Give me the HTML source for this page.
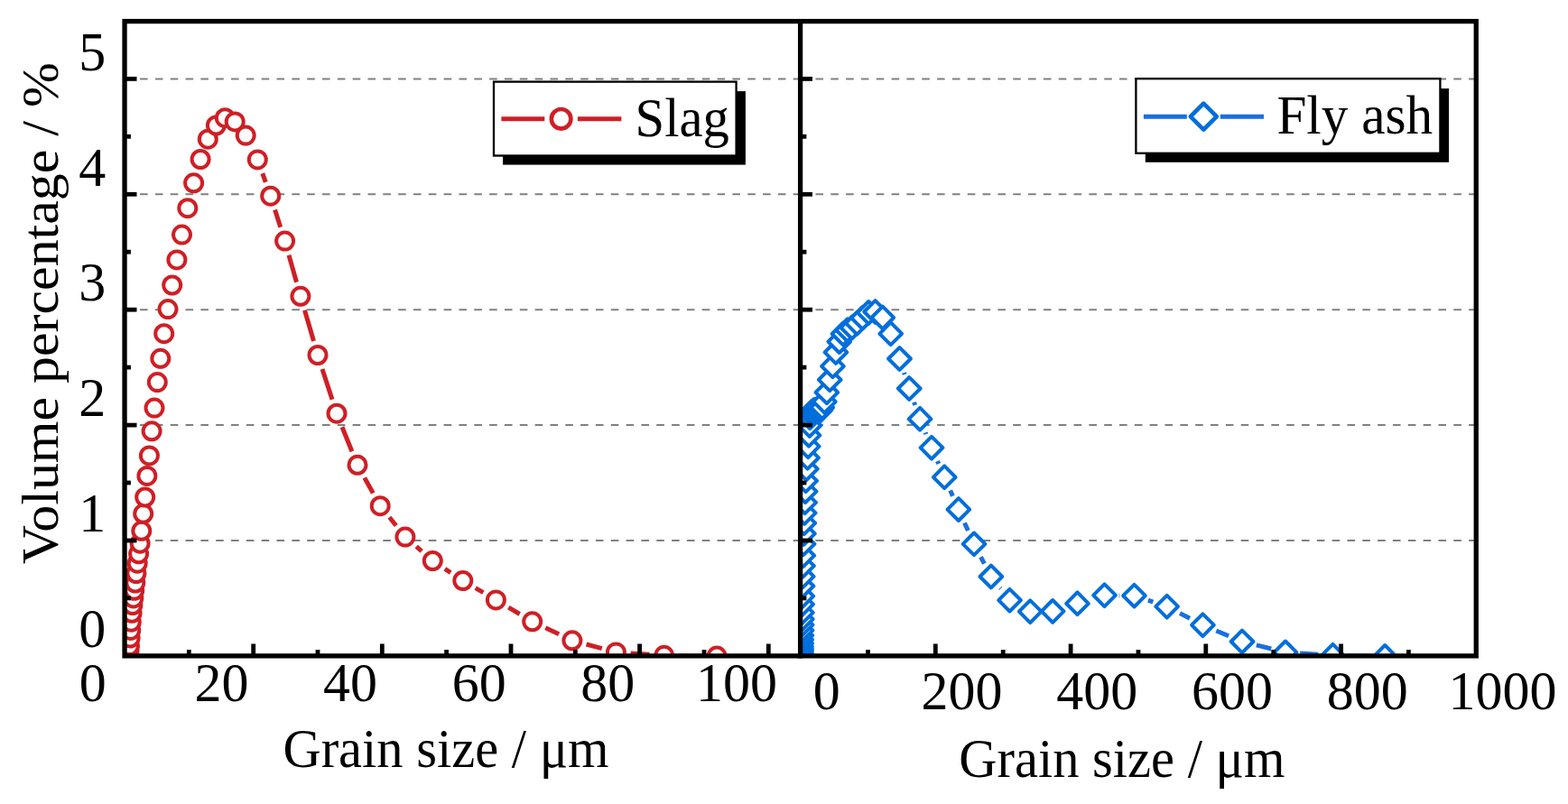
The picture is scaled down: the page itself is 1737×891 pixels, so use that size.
<!DOCTYPE html>
<html lang="en"><head><meta charset="utf-8"><title>Grain size distribution of slag and fly ash</title>
<style>html,body{margin:0;padding:0;background:#fff;overflow:hidden}svg{display:block}text{font-family:"Liberation Serif","Times New Roman",serif;fill:#000}</style></head><body>
<svg width="1737" height="891" viewBox="0 0 1737 891">
<rect width="1737" height="891" fill="#fff"/>
<g stroke="#808080" stroke-width="2" stroke-dasharray="8.6 8.23" fill="none">
<line x1="138.2" y1="599.0" x2="886.6" y2="599.0"/>
<line x1="886.6" y1="599.0" x2="1635.3" y2="599.0"/>
<line x1="138.2" y1="471.1" x2="886.6" y2="471.1"/>
<line x1="886.6" y1="471.1" x2="1635.3" y2="471.1"/>
<line x1="138.2" y1="343.2" x2="886.6" y2="343.2"/>
<line x1="886.6" y1="343.2" x2="1635.3" y2="343.2"/>
<line x1="138.2" y1="215.3" x2="886.6" y2="215.3"/>
<line x1="886.6" y1="215.3" x2="1635.3" y2="215.3"/>
<line x1="138.2" y1="87.4" x2="886.6" y2="87.4"/>
<line x1="886.6" y1="87.4" x2="1635.3" y2="87.4"/>
</g>
<clipPath id="cl"><rect x="138.1" y="23.6" width="748.5" height="701.1"/></clipPath>
<clipPath id="cr"><rect x="886.6" y="23.6" width="748.7" height="701.1"/></clipPath>
<g clip-path="url(#cl)" stroke="#cf1f25" fill="none">
<path stroke-width="5" d="M290.8 192.2L294.3 201.9M304.6 232.6L310.7 251.7M320.0 282.7L328.5 312.7M337.5 343.8L347.5 378.0M357.0 408.9L368.0 442.8M379.0 473.2L389.9 500.3M403.8 529.5L413.3 546.5M431.4 573.3L438.8 582.5M461.2 605.7L467.1 610.9M492.9 630.4L499.2 634.6M526.7 651.7L535.4 656.7M563.3 673.2L575.7 680.5M604.3 695.8L619.2 702.8M649.5 714.0L666.8 718.7M698.6 723.9L719.5 725.3M751.9 726.5L777.9 726.9"/>
<g stroke-width="4" fill="#fff">
<circle cx="139.0" cy="727.0" r="9.5"/>
<circle cx="139.1" cy="727.0" r="9.5"/>
<circle cx="139.2" cy="727.0" r="9.5"/>
<circle cx="139.3" cy="727.0" r="9.5"/>
<circle cx="139.4" cy="727.0" r="9.5"/>
<circle cx="139.6" cy="727.0" r="9.5"/>
<circle cx="139.7" cy="727.0" r="9.5"/>
<circle cx="139.9" cy="727.0" r="9.5"/>
<circle cx="140.1" cy="727.0" r="9.5"/>
<circle cx="140.3" cy="727.0" r="9.5"/>
<circle cx="140.6" cy="727.0" r="9.5"/>
<circle cx="140.8" cy="727.0" r="9.5"/>
<circle cx="141.1" cy="727.0" r="9.5"/>
<circle cx="141.4" cy="727.0" r="9.5"/>
<circle cx="141.8" cy="726.8" r="9.5"/>
<circle cx="142.2" cy="726.0" r="9.5"/>
<circle cx="142.6" cy="724.4" r="9.5"/>
<circle cx="143.0" cy="721.3" r="9.5"/>
<circle cx="143.5" cy="715.6" r="9.5"/>
<circle cx="144.1" cy="707.0" r="9.5"/>
<circle cx="144.7" cy="698.4" r="9.5"/>
<circle cx="145.3" cy="689.2" r="9.5"/>
<circle cx="146.1" cy="679.3" r="9.5"/>
<circle cx="146.9" cy="670.5" r="9.5"/>
<circle cx="147.8" cy="662.9" r="9.5"/>
<circle cx="148.7" cy="654.3" r="9.5"/>
<circle cx="149.8" cy="646.0" r="9.5"/>
<circle cx="150.9" cy="635.5" r="9.5"/>
<circle cx="152.2" cy="624.2" r="9.5"/>
<circle cx="153.6" cy="613.8" r="9.5"/>
<circle cx="155.1" cy="602.2" r="9.5"/>
<circle cx="156.8" cy="588.3" r="9.5"/>
<circle cx="158.7" cy="569.3" r="9.5"/>
<circle cx="160.7" cy="551.0" r="9.5"/>
<circle cx="162.9" cy="527.4" r="9.5"/>
<circle cx="165.4" cy="504.9" r="9.5"/>
<circle cx="168.1" cy="477.8" r="9.5"/>
<circle cx="171.0" cy="452.1" r="9.5"/>
<circle cx="174.3" cy="423.6" r="9.5"/>
<circle cx="177.8" cy="397.3" r="9.5"/>
<circle cx="181.7" cy="369.7" r="9.5"/>
<circle cx="186.0" cy="342.6" r="9.5"/>
<circle cx="190.7" cy="316.0" r="9.5"/>
<circle cx="195.9" cy="287.9" r="9.5"/>
<circle cx="201.5" cy="260.1" r="9.5"/>
<circle cx="207.8" cy="230.7" r="9.5"/>
<circle cx="214.6" cy="202.8" r="9.5"/>
<circle cx="222.1" cy="176.5" r="9.5"/>
<circle cx="230.3" cy="154.2" r="9.5"/>
<circle cx="239.4" cy="139.0" r="9.5"/>
<circle cx="249.3" cy="130.7" r="9.5"/>
<circle cx="260.2" cy="134.9" r="9.5"/>
<circle cx="272.2" cy="150.1" r="9.5"/>
<circle cx="285.3" cy="176.9" r="9.5"/>
<circle cx="299.7" cy="217.2" r="9.5"/>
<circle cx="315.6" cy="267.1" r="9.5"/>
<circle cx="332.9" cy="328.3" r="9.5"/>
<circle cx="352.0" cy="393.5" r="9.5"/>
<circle cx="373.0" cy="458.2" r="9.5"/>
<circle cx="396.0" cy="515.3" r="9.5"/>
<circle cx="421.2" cy="560.7" r="9.5"/>
<circle cx="448.9" cy="595.1" r="9.5"/>
<circle cx="479.3" cy="621.5" r="9.5"/>
<circle cx="512.8" cy="643.5" r="9.5"/>
<circle cx="549.4" cy="664.9" r="9.5"/>
<circle cx="589.7" cy="688.8" r="9.5"/>
<circle cx="633.9" cy="709.8" r="9.5"/>
<circle cx="682.4" cy="722.9" r="9.5"/>
<circle cx="735.7" cy="726.3" r="9.5"/>
<circle cx="794.1" cy="727.1" r="9.5"/>
</g></g>
<g clip-path="url(#cr)" fill="none">
<path stroke="#196fe0" stroke-width="5" d="M1001.5 412.9L1002.2 415.1M1012.6 445.8L1013.7 449.0M1025.2 479.3L1025.9 481.2M1038.5 511.0L1039.8 514.0M1052.7 543.6L1055.4 549.8M1068.5 579.4L1072.4 588.1M1086.5 617.3L1090.4 624.6M1107.9 651.7L1108.5 652.4M1239.7 659.9L1240.3 659.9M1271.9 665.2L1277.3 667.1M1307.1 679.6L1318.0 685.3M1347.3 699.0L1361.1 704.7M1391.8 714.9L1408.2 719.0M1440.1 723.9L1460.3 725.3M1492.7 726.6L1518.0 727.1"/>
<g stroke="#006edc" stroke-width="4" stroke-linejoin="round" fill="#fff">
<path d="M886.7 714.5L899.1 726.9L886.7 739.2L874.4 726.9Z"/>
<path d="M886.7 714.5L899.1 726.9L886.7 739.2L874.4 726.9Z"/>
<path d="M886.7 714.5L899.1 726.9L886.7 739.2L874.4 726.9Z"/>
<path d="M886.7 714.5L899.1 726.9L886.7 739.2L874.4 726.9Z"/>
<path d="M886.8 714.5L899.1 726.9L886.8 739.2L874.4 726.9Z"/>
<path d="M886.8 714.5L899.1 726.9L886.8 739.2L874.4 726.9Z"/>
<path d="M886.8 714.5L899.1 726.9L886.8 739.2L874.4 726.9Z"/>
<path d="M886.8 714.5L899.2 726.9L886.8 739.2L874.5 726.9Z"/>
<path d="M886.9 714.5L899.2 726.9L886.9 739.2L874.5 726.9Z"/>
<path d="M886.9 714.5L899.2 726.9L886.9 739.2L874.5 726.9Z"/>
<path d="M886.9 714.5L899.3 726.9L886.9 739.2L874.6 726.9Z"/>
<path d="M887.0 714.5L899.3 726.9L887.0 739.2L874.6 726.9Z"/>
<path d="M887.0 714.5L899.4 726.9L887.0 739.2L874.6 726.9Z"/>
<path d="M887.0 714.5L899.4 726.9L887.0 739.2L874.7 726.9Z"/>
<path d="M887.1 713.6L899.4 726.0L887.1 738.4L874.7 726.0Z"/>
<path d="M887.1 712.6L899.5 725.0L887.1 737.4L874.8 725.0Z"/>
<path d="M887.2 711.6L899.6 724.0L887.2 736.4L874.9 724.0Z"/>
<path d="M887.3 710.4L899.6 722.7L887.3 735.1L874.9 722.7Z"/>
<path d="M887.3 708.6L899.7 721.0L887.3 733.4L875.0 721.0Z"/>
<path d="M887.4 706.6L899.8 719.0L887.4 731.4L875.1 719.0Z"/>
<path d="M887.5 704.0L899.8 716.4L887.5 728.8L875.1 716.4Z"/>
<path d="M887.6 700.6L899.9 713.0L887.6 725.4L875.2 713.0Z"/>
<path d="M887.7 696.4L900.0 708.8L887.7 721.1L875.3 708.8Z"/>
<path d="M887.8 691.9L900.1 704.2L887.8 716.6L875.4 704.2Z"/>
<path d="M887.9 686.4L900.3 698.7L887.9 711.1L875.6 698.7Z"/>
<path d="M888.0 680.0L900.4 692.4L888.0 704.8L875.7 692.4Z"/>
<path d="M888.2 673.9L900.6 686.2L888.2 698.6L875.9 686.2Z"/>
<path d="M888.4 666.4L900.7 678.8L888.4 691.1L876.0 678.8Z"/>
<path d="M888.5 657.4L900.9 669.7L888.5 682.1L876.2 669.7Z"/>
<path d="M888.7 648.4L901.1 660.7L888.7 673.1L876.4 660.7Z"/>
<path d="M888.9 637.1L901.3 649.5L888.9 661.9L876.6 649.5Z"/>
<path d="M889.2 626.5L901.5 638.9L889.2 651.2L876.8 638.9Z"/>
<path d="M889.4 614.8L901.8 627.1L889.4 639.5L877.1 627.1Z"/>
<path d="M889.7 603.4L902.1 615.7L889.7 628.1L877.4 615.7Z"/>
<path d="M890.0 590.4L902.4 602.8L890.0 615.1L877.7 602.8Z"/>
<path d="M890.4 579.0L902.7 591.4L890.4 603.8L878.0 591.4Z"/>
<path d="M890.7 567.4L903.1 579.7L890.7 592.1L878.4 579.7Z"/>
<path d="M891.1 556.0L903.5 568.4L891.1 580.8L878.8 568.4Z"/>
<path d="M891.6 544.4L904.0 556.8L891.6 569.1L879.2 556.8Z"/>
<path d="M892.1 532.2L904.5 544.6L892.1 557.0L879.8 544.6Z"/>
<path d="M892.6 520.4L905.0 532.8L892.6 545.1L880.3 532.8Z"/>
<path d="M893.3 507.4L905.7 519.7L893.3 532.1L881.0 519.7Z"/>
<path d="M894.6 494.9L906.9 507.3L894.6 519.6L882.2 507.3Z"/>
<path d="M895.2 482.3L907.5 494.7L895.2 507.1L882.8 494.7Z"/>
<path d="M896.0 469.9L908.3 482.3L896.0 494.7L883.6 482.3Z"/>
<path d="M896.8 459.1L909.2 471.5L896.8 483.9L884.5 471.5Z"/>
<path d="M897.2 450.5L909.6 462.9L897.2 475.2L884.9 462.9Z"/>
<path d="M898.2 445.9L910.6 458.3L898.2 470.7L885.9 458.3Z"/>
<path d="M899.4 444.0L911.8 456.4L899.4 468.8L887.0 456.4Z"/>
<path d="M900.7 442.8L913.0 455.2L900.7 467.6L888.3 455.2Z"/>
<path d="M902.0 442.1L914.4 454.5L902.0 466.9L889.7 454.5Z"/>
<path d="M903.5 441.9L915.9 454.3L903.5 466.7L891.2 454.3Z"/>
<path d="M905.2 442.0L917.6 454.4L905.2 466.8L892.9 454.4Z"/>
<path d="M907.0 442.2L919.4 454.6L907.0 467.0L894.7 454.6Z"/>
<path d="M908.9 442.3L921.2 454.7L908.9 467.1L896.5 454.7Z"/>
<path d="M910.8 439.2L923.1 451.6L910.8 464.0L898.4 451.6Z"/>
<path d="M913.4 432.8L925.7 445.1L913.4 457.5L901.0 445.1Z"/>
<path d="M915.9 422.4L928.2 434.8L915.9 447.2L903.5 434.8Z"/>
<path d="M919.2 408.5L931.6 420.9L919.2 433.2L906.9 420.9Z"/>
<path d="M922.4 393.4L934.8 405.8L922.4 418.2L910.1 405.8Z"/>
<path d="M925.9 378.0L938.3 390.4L925.9 402.8L913.6 390.4Z"/>
<path d="M929.8 366.2L942.1 378.6L929.8 391.0L917.4 378.6Z"/>
<path d="M934.0 357.6L946.4 370.0L934.0 382.4L921.7 370.0Z"/>
<path d="M938.7 353.4L951.0 365.8L938.7 378.2L926.3 365.8Z"/>
<path d="M943.8 350.6L956.1 363.0L943.8 375.4L931.4 363.0Z"/>
<path d="M949.4 345.8L961.7 358.2L949.4 370.6L937.0 358.2Z"/>
<path d="M955.5 339.9L967.8 352.3L955.5 364.7L943.1 352.3Z"/>
<path d="M962.2 334.0L974.6 346.4L962.2 358.8L949.9 346.4Z"/>
<path d="M969.6 333.1L982.0 345.5L969.6 357.9L957.3 345.5Z"/>
<path d="M977.8 339.6L990.1 352.0L977.8 364.4L965.4 352.0Z"/>
<path d="M986.7 357.4L999.1 369.8L986.7 382.2L974.4 369.8Z"/>
<path d="M996.5 385.1L1008.9 397.5L996.5 409.9L984.1 397.5Z"/>
<path d="M1007.2 418.1L1019.6 430.5L1007.2 442.9L994.9 430.5Z"/>
<path d="M1019.1 451.9L1031.4 464.3L1019.1 476.7L1006.7 464.3Z"/>
<path d="M1032.0 483.8L1044.4 496.2L1032.0 508.6L1019.7 496.2Z"/>
<path d="M1046.2 516.4L1058.6 528.8L1046.2 541.1L1033.9 528.8Z"/>
<path d="M1061.9 552.2L1074.2 564.6L1061.9 577.0L1049.5 564.6Z"/>
<path d="M1079.0 590.5L1091.4 602.9L1079.0 615.2L1066.7 602.9Z"/>
<path d="M1097.9 626.6L1110.2 639.0L1097.9 651.4L1085.5 639.0Z"/>
<path d="M1118.5 652.8L1130.9 665.1L1118.5 677.5L1106.2 665.1Z"/>
<path d="M1141.2 665.4L1153.6 677.7L1141.2 690.1L1128.9 677.7Z"/>
<path d="M1166.1 665.0L1178.5 677.4L1166.1 689.8L1153.8 677.4Z"/>
<path d="M1193.5 656.4L1205.8 668.8L1193.5 681.1L1181.2 668.8Z"/>
<path d="M1223.5 647.4L1235.9 659.7L1223.5 672.1L1211.2 659.7Z"/>
<path d="M1256.5 647.8L1268.8 660.1L1256.5 672.5L1244.1 660.1Z"/>
<path d="M1292.7 659.9L1305.0 672.2L1292.7 684.6L1280.3 672.2Z"/>
<path d="M1332.4 680.4L1344.8 692.7L1332.4 705.1L1320.1 692.7Z"/>
<path d="M1376.0 698.6L1388.4 711.0L1376.0 723.4L1363.7 711.0Z"/>
<path d="M1423.9 710.5L1436.3 722.9L1423.9 735.2L1411.6 722.9Z"/>
<path d="M1476.5 713.9L1488.8 726.3L1476.5 738.6L1464.1 726.3Z"/>
<path d="M1534.2 715.0L1546.5 727.4L1534.2 739.8L1521.9 727.4Z"/>
</g></g>
<g stroke="#000" stroke-width="4.8" fill="none">
<line x1="138.1" y1="599.0" x2="151.5" y2="599.0"/>
<line x1="886.6" y1="599.0" x2="900.0" y2="599.0"/>
<line x1="138.1" y1="471.1" x2="151.5" y2="471.1"/>
<line x1="886.6" y1="471.1" x2="900.0" y2="471.1"/>
<line x1="138.1" y1="343.2" x2="151.5" y2="343.2"/>
<line x1="886.6" y1="343.2" x2="900.0" y2="343.2"/>
<line x1="138.1" y1="215.3" x2="151.5" y2="215.3"/>
<line x1="886.6" y1="215.3" x2="900.0" y2="215.3"/>
<line x1="138.1" y1="87.4" x2="151.5" y2="87.4"/>
<line x1="886.6" y1="87.4" x2="900.0" y2="87.4"/>
<line x1="138.1" y1="662.9" x2="144.9" y2="662.9"/>
<line x1="886.6" y1="662.9" x2="893.4" y2="662.9"/>
<line x1="138.1" y1="535.0" x2="144.9" y2="535.0"/>
<line x1="886.6" y1="535.0" x2="893.4" y2="535.0"/>
<line x1="138.1" y1="407.1" x2="144.9" y2="407.1"/>
<line x1="886.6" y1="407.1" x2="893.4" y2="407.1"/>
<line x1="138.1" y1="279.2" x2="144.9" y2="279.2"/>
<line x1="886.6" y1="279.2" x2="893.4" y2="279.2"/>
<line x1="138.1" y1="151.3" x2="144.9" y2="151.3"/>
<line x1="886.6" y1="151.3" x2="893.4" y2="151.3"/>
<line x1="280.7" y1="726.9" x2="280.7" y2="713.5"/>
<line x1="423.3" y1="726.9" x2="423.3" y2="713.5"/>
<line x1="566.0" y1="726.9" x2="566.0" y2="713.5"/>
<line x1="708.6" y1="726.9" x2="708.6" y2="713.5"/>
<line x1="851.3" y1="726.9" x2="851.3" y2="713.5"/>
<line x1="209.3" y1="726.9" x2="209.3" y2="720.1"/>
<line x1="352.0" y1="726.9" x2="352.0" y2="720.1"/>
<line x1="494.6" y1="726.9" x2="494.6" y2="720.1"/>
<line x1="637.3" y1="726.9" x2="637.3" y2="720.1"/>
<line x1="780.0" y1="726.9" x2="780.0" y2="720.1"/>
<line x1="1036.3" y1="726.9" x2="1036.3" y2="713.5"/>
<line x1="1186.1" y1="726.9" x2="1186.1" y2="713.5"/>
<line x1="1335.8" y1="726.9" x2="1335.8" y2="713.5"/>
<line x1="1485.6" y1="726.9" x2="1485.6" y2="713.5"/>
<line x1="961.5" y1="726.9" x2="961.5" y2="720.1"/>
<line x1="1111.2" y1="726.9" x2="1111.2" y2="720.1"/>
<line x1="1261.0" y1="726.9" x2="1261.0" y2="720.1"/>
<line x1="1410.7" y1="726.9" x2="1410.7" y2="720.1"/>
<line x1="1560.4" y1="726.9" x2="1560.4" y2="720.1"/>
</g>
<g stroke="#000" stroke-width="5.3" fill="none" stroke-linecap="square">
<rect x="138.05" y="23.6" width="1497.2" height="703.3"/>
<line x1="886.6" y1="23.6" x2="886.6" y2="726.9"/>
</g>
<rect x="557.1" y="101.1" width="268.8" height="81.5" fill="#000"/>
<rect x="547.0" y="90.6" width="268.6" height="81.9" fill="#fff" stroke="#000" stroke-width="2.3"/>
<path stroke="#cf1f25" fill="none" stroke-width="5" d="M555.4 131.8L603.3 131.8M639.9 131.8L688.4 131.8"/>
<circle cx="621.6" cy="131.8" r="10.8" stroke="#cf1f25" fill="#fff" stroke-width="4.6"/>
<text transform="translate(703.6 151.2) scale(1 1.03)" font-size="58.6">Slag</text>
<rect x="1268.8" y="98.1" width="336.2" height="81.7" fill="#000"/>
<rect x="1258.4" y="87.2" width="337.0" height="82.6" fill="#fff" stroke="#000" stroke-width="2.3"/>
<path stroke="#196fe0" fill="none" stroke-width="5" d="M1266.9 129.2L1314.8 129.2M1351.8 129.2L1400.0 129.2"/>
<path stroke="#006edc" fill="#fff" stroke-width="4.7" stroke-linejoin="round" d="M1333.3 114.69999999999999L1347.8 129.2L1333.3 143.7L1318.8 129.2Z"/>
<text transform="translate(1414.4 148.3) scale(1 1.03)" font-size="59.2">Fly ash</text>
<text transform="translate(102.2 717.1) scale(1.0 1.025)" font-size="60" text-anchor="middle">0</text>
<text transform="translate(102.2 589.2) scale(1.0 1.025)" font-size="60" text-anchor="middle">1</text>
<text transform="translate(102.2 461.3) scale(1.0 1.025)" font-size="60" text-anchor="middle">2</text>
<text transform="translate(102.2 333.4) scale(1.0 1.025)" font-size="60" text-anchor="middle">3</text>
<text transform="translate(102.2 205.5) scale(1.0 1.025)" font-size="60" text-anchor="middle">4</text>
<text transform="translate(102.2 77.6) scale(1.0 1.025)" font-size="60" text-anchor="middle">5</text>
<text transform="translate(102.7 777.2) scale(1.0 1.025)" font-size="60" text-anchor="middle">0</text>
<text transform="translate(245.4 777.2) scale(1.0 1.025)" font-size="60" text-anchor="middle">20</text>
<text transform="translate(388.0 777.2) scale(1.0 1.025)" font-size="60" text-anchor="middle">40</text>
<text transform="translate(530.7 777.2) scale(1.0 1.025)" font-size="60" text-anchor="middle">60</text>
<text transform="translate(673.3 777.2) scale(1.0 1.025)" font-size="60" text-anchor="middle">80</text>
<text transform="translate(816.0 777.2) scale(1.0 1.025)" font-size="60" text-anchor="middle">100</text>
<text transform="translate(915.8 785.9) scale(1.0 1.025)" font-size="60" text-anchor="middle">0</text>
<text transform="translate(1065.5 785.9) scale(1.0 1.025)" font-size="60" text-anchor="middle">200</text>
<text transform="translate(1215.3 785.9) scale(1.0 1.025)" font-size="60" text-anchor="middle">400</text>
<text transform="translate(1365.0 785.9) scale(1.0 1.025)" font-size="60" text-anchor="middle">600</text>
<text transform="translate(1514.8 785.9) scale(1.0 1.025)" font-size="60" text-anchor="middle">800</text>
<text transform="translate(1664.5 785.9) scale(1.0 1.025)" font-size="60" text-anchor="middle">1000</text>
<text transform="translate(313.4 849.7) scale(1.0 1.04)" font-size="58.5" text-anchor="start">Grain size / μm</text>
<text transform="translate(1062.3 860.7) scale(1.0 1.04)" font-size="58.5" text-anchor="start">Grain size / μm</text>
<text transform="translate(64.1 347.2) rotate(-90) scale(1.0 0.96)" font-size="59.9" text-anchor="middle">Volume percentage / %</text>
</svg></body></html>
